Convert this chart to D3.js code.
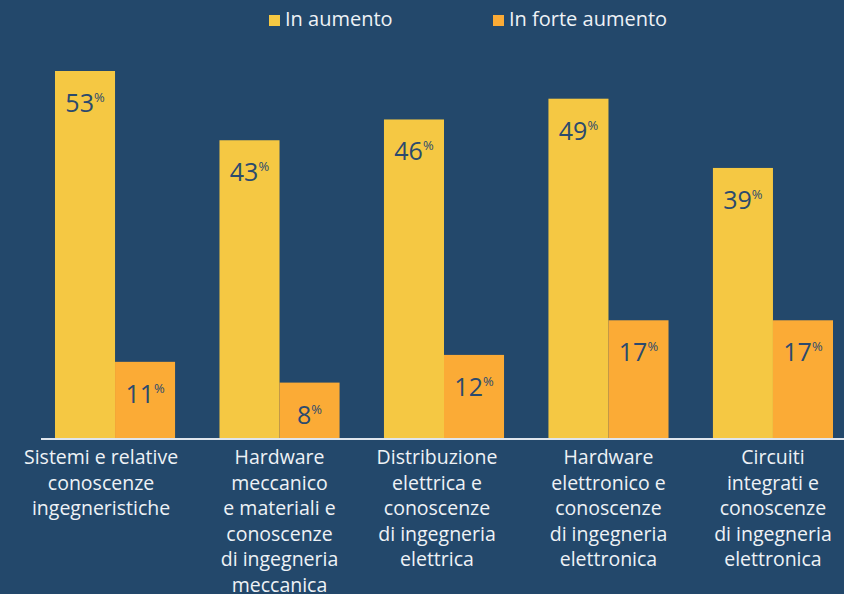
<!DOCTYPE html>
<html>
<head>
<meta charset="utf-8">
<script src="https://cdn.jsdelivr.net/npm/d3@7"></script>
<style>
  html, body { margin: 0; padding: 0; background: #23486b; }
  svg { display: block; font-family: "Open Sans", "Noto Sans", sans-serif; }
</style>
</head>
<body>
<div id="chart"></div>
<script>
/* Data
======================================================================= */
var categories = [
      ['Sistemi e relative', 'conoscenze', 'ingegneristiche'],
      ['Hardware', 'meccanico', 'e materiali e', 'conoscenze', 'di ingegneria', 'meccanica'],
      ['Distribuzione', 'elettrica e', 'conoscenze', 'di ingegneria', 'elettrica'],
      ['Hardware', 'elettronico e', 'conoscenze', 'di ingegneria', 'elettronica'],
      ['Circuiti', 'integrati e', 'conoscenze', 'di ingegneria', 'elettronica']
    ],
    seriesNames = ['In aumento', 'In forte aumento'],
    inAumento = [53, 43, 46, 49, 39],
    inForteAumento = [11, 8, 12, 17, 17],
    colors = ['#f5c843', '#fbab36'];

/* Layout
======================================================================= */
var W = 844, H = 594,
    baseY = 438, // y of the baseline
    topY = 71,   // y of the 53% bar top
    bg = '#23486b';

var svg = d3.select('#chart').append('svg')
  .attr('width', W)
  .attr('height', H);

svg.append('rect').attr('width', W).attr('height', H).attr('fill', bg);

// Group scale and series scale
var x0 = d3.scaleBand()
  .domain(d3.range(categories.length))
  .range([55, 833])
  .paddingInner(0.27)
  .paddingOuter(0);

var x1 = d3.scaleBand()
  .domain([0, 1])
  .range([0, x0.bandwidth()]);

var y = d3.scaleLinear()
  .domain([0, 53])
  .range([baseY, topY]);

var rows = categories.map(function(c, i) {
  return { i: i, lines: c, vals: [inAumento[i], inForteAumento[i]] };
});

var groups = svg.selectAll('g.group')
  .data(rows)
  .enter().append('g')
    .attr('class', 'group')
    .attr('transform', function(d) { return 'translate(' + x0(d.i) + ',0)'; });

// Bars
groups.selectAll('rect')
  .data(function(d) { return d.vals.map(function(v, k) { return { k: k, v: v }; }); })
  .enter().append('rect')
    .attr('x', function(d) { return x1(d.k); })
    .attr('y', function(d) { return y(d.v); })
    .attr('width', x1.bandwidth())
    .attr('height', function(d) { return baseY - y(d.v); })
    .attr('fill', function(d) { return colors[d.k]; });

// Value labels with superscript %
var vl = groups.selectAll('text.val')
  .data(function(d) { return d.vals.map(function(v, k) { return { k: k, v: v }; }); })
  .enter().append('text')
    .attr('class', 'val')
    .attr('x', function(d) { return x1(d.k) + x1.bandwidth() / 2; })
    .attr('y', function(d) { return y(d.v) + 41; })
    .attr('text-anchor', 'middle')
    .attr('fill', '#2b4a6e')
    .style('font-size', '25px');

vl.append('tspan').text(function(d) { return d.v; });
vl.append('tspan')
  .attr('dy', -10)
  .style('font-size', '13px')
  .text('%');

// Baseline
svg.append('line')
  .attr('x1', 41).attr('x2', W)
  .attr('y1', baseY + 1).attr('y2', baseY + 1)
  .attr('stroke', '#dfe5ec')
  .attr('stroke-width', 2);

// Category labels
var cl = groups.append('text')
  .attr('text-anchor', 'middle')
  .attr('fill', '#eef2f6')
  .style('font-size', '19.5px');

cl.selectAll('tspan')
  .data(function(d) { return d.lines; })
  .enter().append('tspan')
    .attr('x', function(d, j, nodes) {
      // first category label sits slightly left of its bars
      var i = d3.select(nodes[j].parentNode).datum().i;
      return x0.bandwidth() / 2 + (i === 0 ? -14 : i === 2 ? -7 : 0);
    })
    .attr('y', function(d, j) { return 464 + j * 25.5; })
    .text(function(d) { return d; });

// Legend
var legX = [269, 493];
var leg = svg.selectAll('g.legend')
  .data(seriesNames)
  .enter().append('g')
    .attr('class', 'legend')
    .attr('transform', function(d, i) { return 'translate(' + legX[i] + ',0)'; });

leg.append('rect')
  .attr('y', 15).attr('width', 11).attr('height', 11)
  .attr('fill', function(d, i) { return colors[i]; });

leg.append('text')
  .attr('x', 16).attr('y', 26)
  .attr('fill', '#eef2f6')
  .style('font-size', '20px')
  .text(function(d) { return d; });
</script>
</body>
</html>
